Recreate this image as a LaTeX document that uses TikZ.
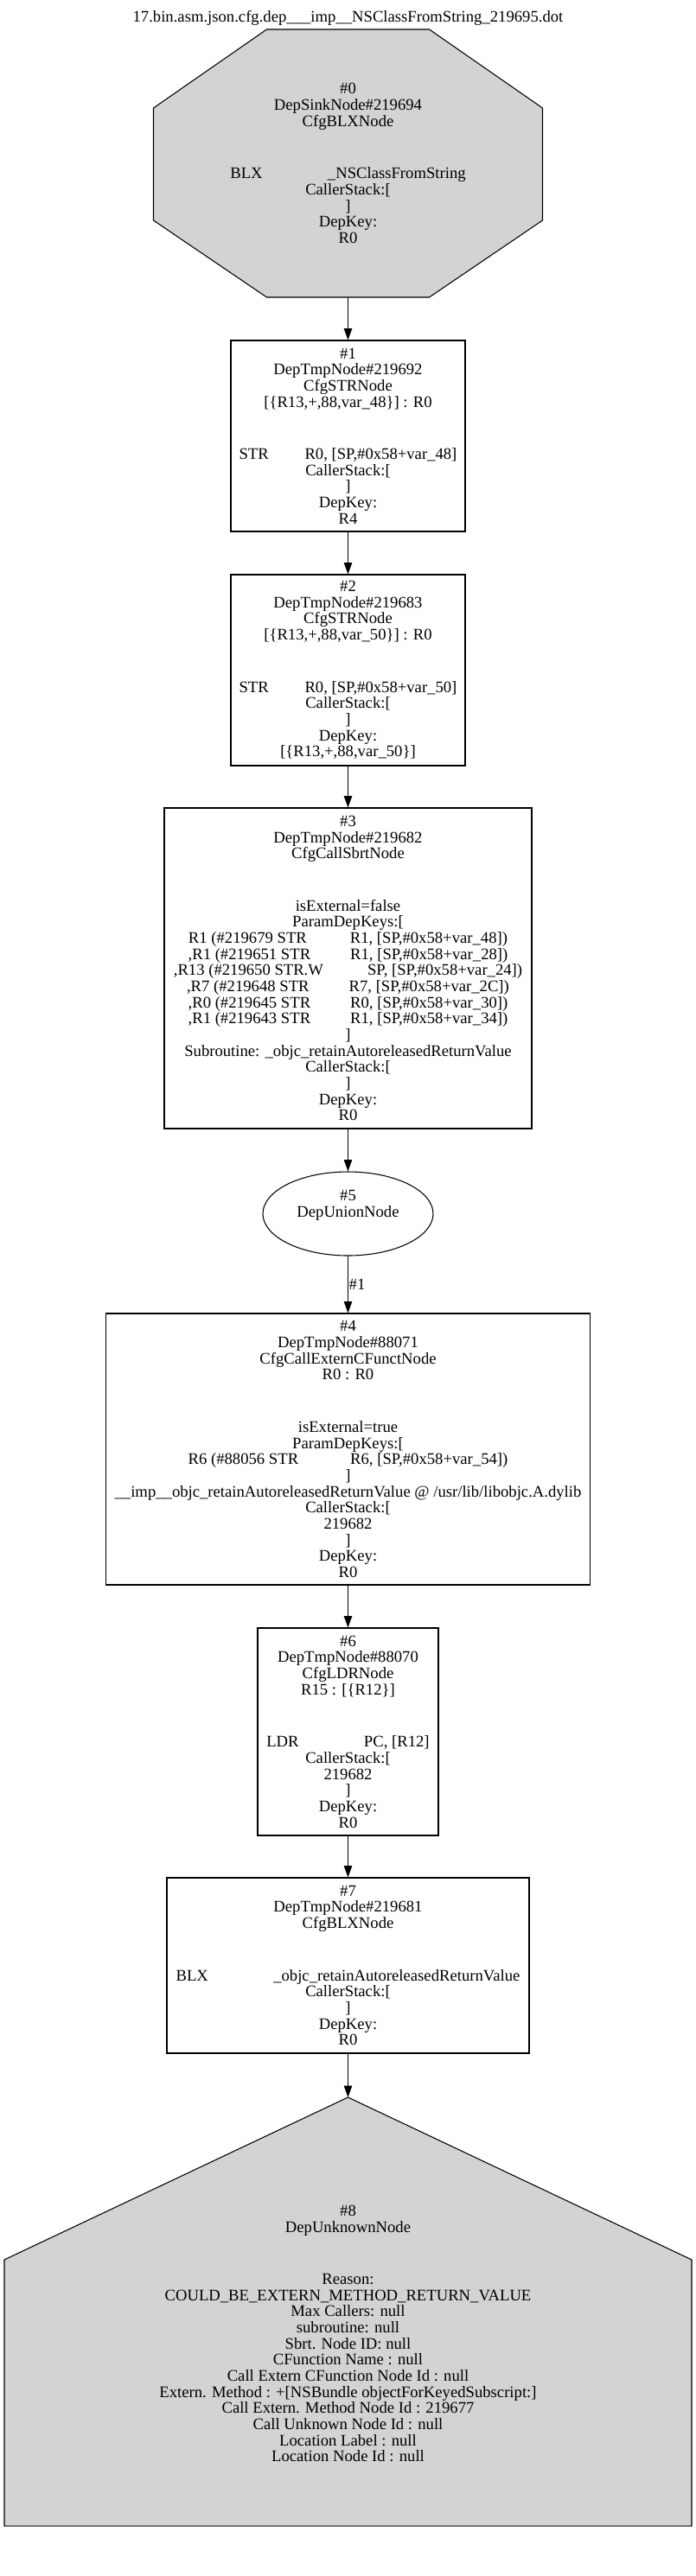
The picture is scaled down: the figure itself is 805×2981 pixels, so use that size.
\documentclass[tikz,border=0pt]{standalone}
\usepackage{fontspec}
\setmainfont{Liberation Serif}
\usetikzlibrary{arrows.meta,shapes.geometric,positioning}
\definecolor{nodegray}{HTML}{D3D3D3}
\tikzset{
  depbox/.style={draw, line width=0.8pt, rectangle, align=center, inner sep=0pt},
  deptext/.style={align=center, inner sep=0pt},
  depedge/.style={line width=0.8pt, -{Triangle[length=10pt,width=7pt]}},
  edgelabel/.style={midway, anchor=west, inner sep=0.5pt}
}
\newcommand{\sinkshape}{\draw[fill=nodegray, line width=0.8pt] (308.5,34) -- (496.5,34) -- (627.5,125) -- (627.5,255)
					-- (496.5,344) -- (308.5,344) -- (177.5,255) -- (177.5,125) -- cycle;}
\newcommand{\unknownshape}{\draw[fill=nodegray, line width=0.8pt] (402.5,2427) -- (800,2615) -- (800,2923)
					-- (5,2923) -- (5,2615) -- cycle;}

\begin{document}
\begin{tikzpicture}[x=0.75pt, y=-0.75pt, font=\fontsize{14pt}{14pt}\selectfont]
				\useasboundingbox (0,0) rectangle (805,2981);

					\node[deptext] (title) at (402.5,21) {17.bin.asm.json.cfg.dep\_\_\_imp\_\_NSClassFromString\_219695.dot};

					\sinkshape
					\node[deptext, minimum width=337.5pt, minimum height=232.5pt] (n0) at (402.5,189)
						{\#0\\DepSinkNode\#219694\\CfgBLXNode\\[31.4pt]BLX\hspace*{56.5pt}\_NSClassFromString\\CallerStack:[\\]\\DepKey:\\R0};

					\node[depbox, minimum width=203.25pt, minimum height=165.75pt] (n1) at (402.5,504.5)
						{\#1\\DepTmpNode\#219692\\CfgSTRNode\\{[}\{R13,+,88,var\_48\}] : R0\\[31.4pt]STR\hspace*{31.3pt}R0, [SP,\#0x58+var\_48]\\CallerStack:[\\]\\DepKey:\\R4};

					\node[depbox, minimum width=203.25pt, minimum height=165.75pt] (n2) at (402.5,775.5)
						{\#2\\DepTmpNode\#219683\\CfgSTRNode\\{[}\{R13,+,88,var\_50\}] : R0\\[31.4pt]STR\hspace*{31.3pt}R0, [SP,\#0x58+var\_50]\\CallerStack:[\\]\\DepKey:\\{[}\{R13,+,88,var\_50\}]};

					\node[depbox, minimum width=318.75pt, minimum height=278.25pt] (n3) at (402.5,1120.5)
						{\#3\\DepTmpNode\#219682\\CfgCallSbrtNode\\[31.4pt]isExternal=false\\ParamDepKeys:[\\
						R1 (\#219679 STR\hspace*{37.5pt}R1, [SP,\#0x58+var\_48])\\
						,R1 (\#219651 STR\hspace*{34.5pt}R1, [SP,\#0x58+var\_28])\\
						,R13 (\#219650 STR.W\hspace*{38.3pt}SP, [SP,\#0x58+var\_24])\\
						,R7 (\#219648 STR\hspace*{34.5pt}R7, [SP,\#0x58+var\_2C])\\
						,R0 (\#219645 STR\hspace*{34.5pt}R0, [SP,\#0x58+var\_30])\\
						,R1 (\#219643 STR\hspace*{34.5pt}R1, [SP,\#0x58+var\_34])\\
						]\\Subroutine: \_objc\_retainAutoreleasedReturnValue\\CallerStack:[\\]\\DepKey:\\R0};

					\node[draw, ellipse, line width=0.8pt, inner sep=0pt, minimum width=147.75pt, minimum height=72.75pt] (n5) at (402.5,1404.5) {};
					\node[deptext] (n5text) at (402.5,1395) {\#5\\DepUnionNode};

					\node[depbox, minimum width=420pt, minimum height=235.5pt] (n4) at (402.5,1677)
						{\#4\\DepTmpNode\#88071\\CfgCallExternCFunctNode\\R0 : R0\\[31.4pt]isExternal=true\\ParamDepKeys:[\\
						R6 (\#88056 STR\hspace*{45pt}R6, [SP,\#0x58+var\_54])\\]\\
						\_\_imp\_\_objc\_retainAutoreleasedReturnValue @ /usr/lib/libobjc.A.dylib\\CallerStack:[\\219682\\]\\DepKey:\\R0};

					\node[depbox, minimum width=156.75pt, minimum height=180pt] (n6) at (402.5,2004)
						{\#6\\DepTmpNode\#88070\\CfgLDRNode\\R15 : [\{R12\}]\\[31.4pt]LDR\hspace*{56.5pt}PC, [R12]\\CallerStack:[\\219682\\]\\DepKey:\\R0};

					\node[depbox, minimum width=314.25pt, minimum height=152.25pt] (n7) at (402.5,2274.5)
						{\#7\\DepTmpNode\#219681\\CfgBLXNode\\[31.4pt]BLX\hspace*{56.5pt}\_objc\_retainAutoreleasedReturnValue\\CallerStack:[\\]\\DepKey:\\R0};

					\unknownshape
					\coordinate (n8apex) at (402.5,2427);
					\node[deptext] (n8) at (402.5,2700.5)
						{\#8\\DepUnknownNode\\[31.4pt]Reason:\\COULD\_BE\_EXTERN\_METHOD\_RETURN\_VALUE\\Max Callers: null\\subroutine: null\\
						Sbrt. Node ID: null\\CFunction Name : null\\Call Extern CFunction Node Id : null\\
						Extern. Method : +[NSBundle objectForKeyedSubscript:]\\Call Extern. Method Node Id : 219677\\
						Call Unknown Node Id : null\\Location Label : null\\Location Node Id : null};

					\draw[depedge] (n0.south) -- (n1.north);
					\draw[depedge] (n1.south) -- (n2.north);
					\draw[depedge] (n2.south) -- (n3.north);
					\draw[depedge] (n3.south) -- (n5.north);
					\draw[depedge] (n5.south) -- node[edgelabel] (lab1) {\#1} (n4.north);
					\draw[depedge] (n4.south) -- (n6.north);
					\draw[depedge] (n6.south) -- (n7.north);
					\draw[depedge] (n7.south) -- (n8apex);

				\end{tikzpicture}
\end{document}
